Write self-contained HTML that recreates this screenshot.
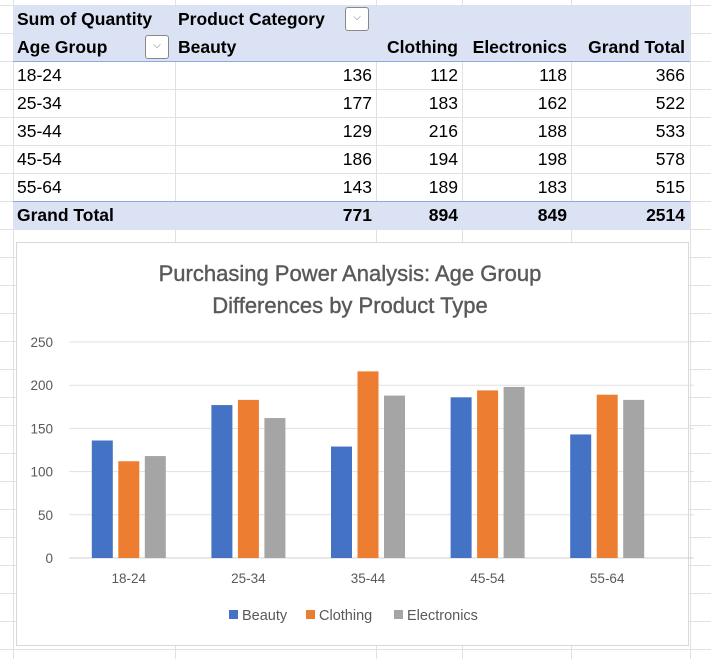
<!DOCTYPE html>
<html><head><meta charset="utf-8"><style>
body{margin:0;width:711px;height:659px;background:#fff;position:relative;overflow:hidden;font-family:"Liberation Sans",sans-serif}
.vl{position:absolute;top:0;bottom:0;width:1px;background:#e1e1e1}
.hl{position:absolute;left:0;right:0;height:1px;background:#e1e1e1}
.cell{position:absolute;font-size:17.5px;color:#000;height:28px;line-height:28px;white-space:nowrap}
.r{text-align:right}
.dd{position:absolute;width:22px;height:22px;border:1px solid #888;border-radius:3px;background:#fff;font-size:10px;color:#777;text-align:center;line-height:20px}
</style></head><body>
<div id="grid"></div>
<div style="position:absolute;left:13px;top:5px;width:677px;height:56px;background:#dae2f3;border-bottom:1px solid #8ea9db"></div>
<div style="position:absolute;left:13px;top:201px;width:677px;height:28px;background:#dae2f3;border-top:1px solid #8ea9db"></div>
<div id="table"></div>
<div class="dd" style="left:345px;top:7px">⌵</div>
<div class="dd" style="left:145px;top:35px">⌵</div>
<svg id="chart" style="position:absolute;left:0;top:0" width="711" height="659"></svg>
<script>
const categories=["18-24","25-34","35-44","45-54","55-64"];
const beauty=[136,177,129,186,143];
const clothing=[112,183,216,194,189];
const electronics=[118,162,188,198,183];
const yTicks=[0,50,100,150,200,250];
const seriesNames=["Beauty","Clothing","Electronics"];
const seriesColors=["#4472c4","#ed7d31","#a5a5a5"];

const grid=document.getElementById('grid');
[13,175,376,462,571,690].forEach(x=>{const d=document.createElement('div');d.className='vl';d.style.left=x+'px';

grid.appendChild(d);});
for(let y=5;y<659;y+=28){const d=document.createElement('div');d.className='hl';d.style.top=y+'px';

grid.appendChild(d);}

const tb=document.getElementById('table');
function cell(txt,l,t,w,right,bold,name){const d=document.createElement('div');d.className='cell'+(right?' r':'');
d.style.left=l+'px';d.style.top=t+'px';d.style.width=w+'px';if(bold)d.style.fontWeight='bold';d.textContent=txt;

tb.appendChild(d);}
cell("Sum of Quantity",17,5,160,false,true,'values-header');
cell("Product Category",178,5,170,false,true,'columns-header');
cell("Age Group",17,33,130,false,true,'rows-header');
cell("Beauty",178,33,100,false,true,'col-beauty');
cell("Clothing",376,33,82,true,true,'col-clothing');
cell("Electronics",462,33,105,true,true,'col-electronics');
cell("Grand Total",571,33,114,true,true,'col-grand-total');
const rights=[[175,197],[376,82],[462,105],[571,114]];
categories.forEach((c,i)=>{const y=61+i*28;cell(c,17,y,150,false,false,'row-label');
const vals=[beauty[i],clothing[i],electronics[i],beauty[i]+clothing[i]+electronics[i]];
vals.forEach((v,j)=>cell(String(v),rights[j][0],y,rights[j][1],true,false,'value-cell'));});
cell("Grand Total",17,201,150,false,true,'grand-total-label');
const sum=a=>a.reduce((p,q)=>p+q,0);
[sum(beauty),sum(clothing),sum(electronics),sum(beauty)+sum(clothing)+sum(electronics)].forEach((v,j)=>cell(String(v),rights[j][0],201,rights[j][1],true,true,'grand-total-cell'));

const NS="http://www.w3.org/2000/svg";const svg=document.getElementById('chart');
function el(tag,attrs,name,txt){const e=document.createElementNS(NS,tag);for(const k in attrs)e.setAttribute(k,attrs[k]);

if(txt!==undefined)e.textContent=txt;svg.appendChild(e);return e;}
el('rect',{x:16.5,y:242.5,width:672,height:403,fill:'#fff',stroke:'#d9d9d9'},'chart-area');
el('text',{x:350,y:281,'text-anchor':'middle','font-size':'22','fill':'#595959','stroke':'#595959','stroke-width':'0.4'},'chart-title-line1','Purchasing Power Analysis: Age Group');
el('text',{x:350,y:313,'text-anchor':'middle','font-size':'22','fill':'#595959','stroke':'#595959','stroke-width':'0.4'},'chart-title-line2','Differences by Product Type');
const x0=69,x1=667,y0=558,yTop=342,ymax=250;
const ys=v=>y0-(v/ymax)*(y0-yTop);
const band=(x1-x0)/categories.length;
const xc=i=>x0+band*(i+0.5);
yTicks.forEach(t=>{el('line',{x1:x0,x2:694,y1:ys(t),y2:ys(t),stroke:t===0?'#d0d0d0':'#e0e0e0','stroke-width':1},'y-gridline');
el('text',{x:53,y:ys(t)+5,'text-anchor':'end','font-size':'13.5','fill':'#595959'},'y-tick-label',String(t));});
const bw=21,gap=5.5;const series=[beauty,clothing,electronics];
categories.forEach((c,i)=>{
series.forEach((s,k)=>{const x=xc(i)+(k-1)*(bw+gap)-bw/2;
el('rect',{x:x,y:ys(s[i]),width:bw,height:y0-ys(s[i]),fill:seriesColors[k]},'bar-'+seriesNames[k].toLowerCase()+'-'+c);});
el('text',{x:xc(i),y:583,'text-anchor':'middle','font-size':'13.5','fill':'#595959'},'x-tick-label',c);});
let lx=229;
seriesNames.forEach((n,k)=>{el('rect',{x:lx,y:610,width:9,height:9,fill:seriesColors[k]},'legend-swatch');
el('text',{x:lx+13,y:620,'font-size':'14.5','fill':'#595959'},'legend-entry',n);lx+=[77,88,0][k];});
</script>
</body></html>
